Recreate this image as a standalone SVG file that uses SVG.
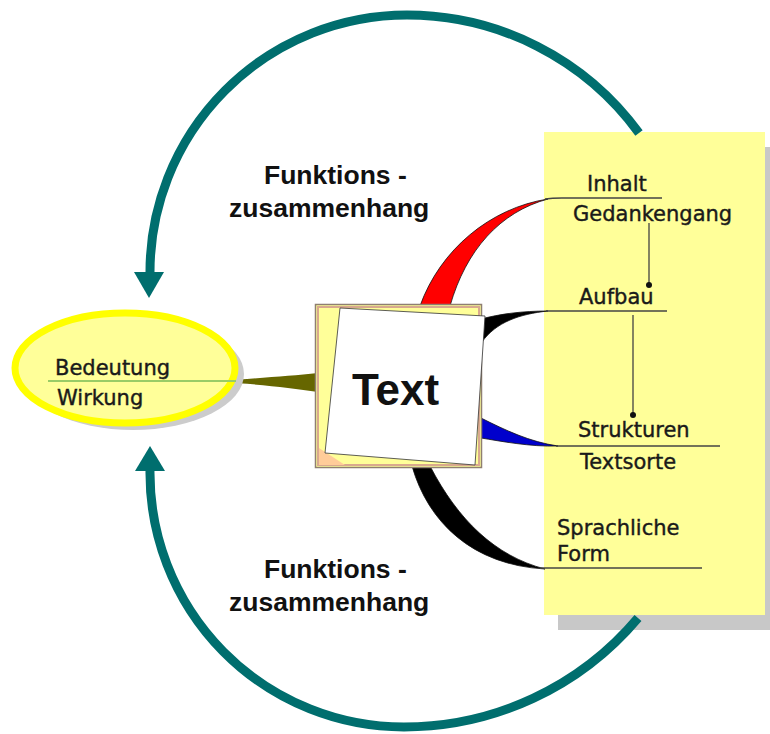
<svg xmlns="http://www.w3.org/2000/svg" width="770" height="734" viewBox="0 0 770 734">
<style>
.arc{fill:none;stroke:#006e6e;stroke-width:9}
.head{fill:#006e6e}
.lbl{font-family:"DejaVu Sans",sans-serif;font-size:21px;fill:#1a1a1a;stroke:#1a1a1a;stroke-width:0.4}
.fz{font-family:"Liberation Sans",Arial,sans-serif;font-size:26.5px;font-weight:bold;fill:#111}
.ul{fill:none;stroke:#444;stroke-width:1.3}
.wedge{stroke:#111;stroke-width:0.8}
</style>
<rect width="770" height="734" fill="#fff"/>

<g id="panel">
<rect x="558" y="147" width="212" height="483" fill="#c8c8c8"/>
<rect x="544" y="132" width="221" height="483" fill="#ffff99"/>
</g>

<g id="connectors">
<path class="wedge" d="M 420 306 C 440 250 490 208 548 199 C 500 212 466 250 450 306 Z" fill="#ff0000"/>
<path class="wedge" d="M 481 319 C 500 314 522 311 548 311 C 520 314 496 322 482 342 Z" fill="#000"/>
<path class="wedge" d="M 481 418 C 505 430 530 442 558 446 C 530 447 500 441 481 438 Z" fill="#0000cc"/>
<path class="wedge" d="M 412 466 C 428 522 472 565 545 569 C 495 556 458 520 430 466 Z" fill="#000"/>
<path d="M 218 381 C 260 378 290 376 318 373 L 318 392 C 290 388 260 384 218 382 Z" fill="#666600"/>
<path class="ul" d="M 545 199 C 552 198 556 198 562 198 L 662 198"/>
<path class="ul" d="M 546 311 L 667 311"/>
<path class="ul" d="M 556 446 L 720 446"/>
<path class="ul" d="M 540 568 L 702 568"/>
<path class="ul" d="M 649 223 L 649 285 M 633 315 L 633 415"/>
<circle cx="649" cy="285" r="3" fill="#111"/>
<circle cx="633" cy="415" r="3" fill="#111"/>
<path class="arc" d="M 639 133 A 287 287 0 0 0 407 15 A 257 257 0 0 0 150 273"/>
<polygon class="head" points="134,272 164,272 149,298"/>
<path class="arc" d="M 638 618 A 306 306 0 0 1 404 727 A 254 254 0 0 1 150 470"/>
<polygon class="head" points="135,471 165,471 150,446"/>
</g>

<g id="bedeutung">
<ellipse cx="133" cy="374" rx="111" ry="56" fill="#cccccc"/>
<ellipse cx="125" cy="368" rx="110" ry="55" fill="#ffff99" stroke="#ffff00" stroke-width="7"/>
<line x1="48" y1="381" x2="236" y2="381" stroke="#99cc66" stroke-width="2"/>
<text class="lbl" x="55" y="375">Bedeutung</text>
<text class="lbl" x="57" y="405">Wirkung</text>
</g>

<g id="text-node">
<rect x="315.5" y="304.5" width="166" height="163" fill="#ffff99" stroke="#8f7f70" stroke-width="1.5"/>
<rect x="318" y="307" width="161" height="158" fill="none" stroke="#d9a98e" stroke-width="2"/>
<polygon points="319,448 319,465 345,465" fill="#ffcc99"/>
<polygon points="340,308 485,316 475,465 325,453" fill="#fff" stroke="#333" stroke-width="0.8"/>
<text x="352" y="405" font-family="'Liberation Sans',Arial,sans-serif" font-size="44" font-weight="bold" fill="#111">Text</text>
</g>

<g id="funktion-top">
<text class="fz" x="264" y="184">Funktions -</text>
<text class="fz" x="229" y="217">zusammenhang</text>
</g>
<g id="funktion-bottom">
<text class="fz" x="264" y="578">Funktions -</text>
<text class="fz" x="229" y="611">zusammenhang</text>
</g>

<g id="inhalt">
<text class="lbl" x="587" y="191">Inhalt</text>
<text class="lbl" x="573" y="221">Gedankengang</text>
</g>
<g id="aufbau">
<text class="lbl" x="579" y="304">Aufbau</text>
</g>
<g id="strukturen">
<text class="lbl" x="578" y="437">Strukturen</text>
<text class="lbl" x="580" y="469">Textsorte</text>
</g>
<g id="sprachliche">
<text class="lbl" x="557" y="535">Sprachliche</text>
<text class="lbl" x="557" y="561">Form</text>
</g>
</svg>
